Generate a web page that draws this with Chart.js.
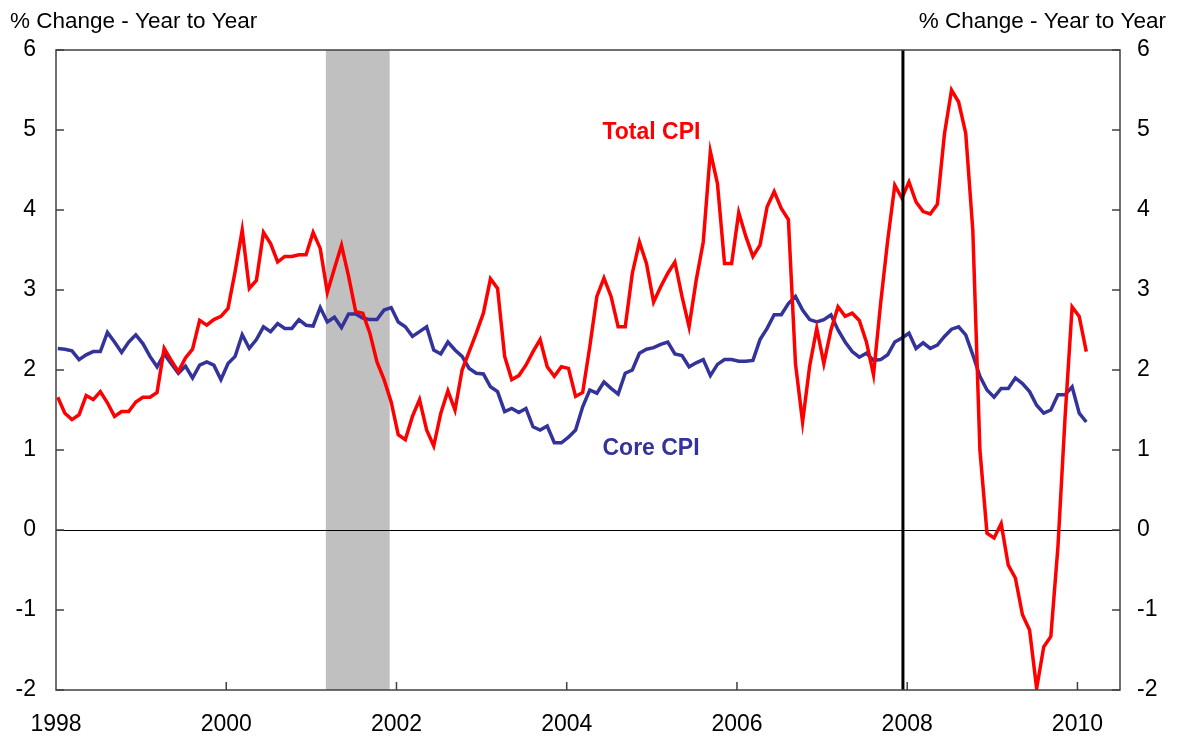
<!DOCTYPE html>
<html>
<head>
<meta charset="utf-8">
<script src="https://cdn.jsdelivr.net/npm/chart.js@4.4.1/dist/chart.umd.min.js"></script>
<style>
  html, body { margin: 0; padding: 0; background: #fff; }
  canvas { display: block; }
</style>
</head>
<body>
<canvas id="cpi-chart" width="1179" height="740"></canvas>
<script>
const startYear = 1998;
const yearTicks = [1998, 2000, 2002, 2004, 2006, 2008, 2010];
const valueTicks = [-2, -1, 0, 1, 2, 3, 4, 5, 6];
const recessions = [[2001.17, 2001.92]];
const recessionStart = 2007.95;
const axisTitle = '% Change - Year to Year';

// monthly, Jan 1998 - Feb 2010
const totalCpi = [
  1.66, 1.46, 1.38, 1.44, 1.68, 1.63, 1.73, 1.59, 1.42, 1.48, 1.48, 1.60, // 1998
  1.66, 1.66, 1.72, 2.27, 2.12, 1.98, 2.15, 2.26, 2.62, 2.56, 2.63, 2.67, // 1999
  2.77, 3.23, 3.75, 3.02, 3.12, 3.72, 3.58, 3.35, 3.42, 3.42, 3.44, 3.44, // 2000
  3.72, 3.52, 2.97, 3.27, 3.56, 3.17, 2.73, 2.71, 2.46, 2.10, 1.88, 1.60, // 2001
  1.19, 1.13, 1.42, 1.63, 1.25, 1.05, 1.46, 1.74, 1.50, 2.00, 2.23, 2.46, // 2002
  2.71, 3.14, 3.02, 2.17, 1.88, 1.93, 2.06, 2.23, 2.38, 2.04, 1.92, 2.04, // 2003
  2.02, 1.67, 1.72, 2.29, 2.92, 3.15, 2.92, 2.54, 2.54, 3.21, 3.60, 3.33, // 2004
  2.85, 3.04, 3.21, 3.35, 2.92, 2.54, 3.12, 3.60, 4.73, 4.33, 3.33, 3.33, // 2005
  3.97, 3.67, 3.42, 3.56, 4.04, 4.23, 4.02, 3.88, 2.08, 1.35, 2.05, 2.52, // 2006
  2.08, 2.50, 2.79, 2.67, 2.71, 2.62, 2.35, 1.94, 2.83, 3.62, 4.31, 4.15, // 2007
  4.35, 4.10, 3.98, 3.95, 4.07, 4.95, 5.50, 5.35, 4.96, 3.75, 1.00, -0.04, // 2008
  -0.10, 0.08, -0.44, -0.60, -1.06, -1.25, -1.98, -1.46, -1.33, -0.21, 1.40, 2.79, // 2009
  2.67, 2.23 // 2010
];

const coreCpi = [
  2.27, 2.26, 2.24, 2.13, 2.19, 2.23, 2.23, 2.47, 2.35, 2.22, 2.35, 2.44, // 1998
  2.33, 2.17, 2.04, 2.20, 2.08, 1.96, 2.05, 1.90, 2.06, 2.10, 2.06, 1.88, // 1999
  2.08, 2.17, 2.44, 2.27, 2.38, 2.54, 2.48, 2.58, 2.52, 2.52, 2.63, 2.56, // 2000
  2.55, 2.78, 2.60, 2.66, 2.53, 2.70, 2.70, 2.65, 2.63, 2.63, 2.75, 2.78, // 2001
  2.60, 2.54, 2.42, 2.48, 2.54, 2.25, 2.20, 2.35, 2.25, 2.17, 2.02, 1.96, // 2002
  1.95, 1.79, 1.73, 1.48, 1.52, 1.47, 1.52, 1.29, 1.25, 1.30, 1.09, 1.09, // 2003
  1.16, 1.25, 1.54, 1.75, 1.71, 1.85, 1.77, 1.70, 1.96, 2.00, 2.21, 2.26, // 2004
  2.28, 2.32, 2.35, 2.20, 2.18, 2.04, 2.09, 2.13, 1.93, 2.07, 2.13, 2.13, // 2005
  2.11, 2.11, 2.12, 2.38, 2.52, 2.69, 2.69, 2.83, 2.92, 2.75, 2.63, 2.60, // 2006
  2.63, 2.69, 2.50, 2.35, 2.23, 2.16, 2.21, 2.12, 2.13, 2.19, 2.35, 2.40, // 2007
  2.46, 2.27, 2.34, 2.27, 2.31, 2.42, 2.51, 2.54, 2.44, 2.19, 1.92, 1.75, // 2008
  1.66, 1.77, 1.77, 1.90, 1.83, 1.73, 1.56, 1.46, 1.50, 1.69, 1.69, 1.79, // 2009
  1.46, 1.35 // 2010
];

const FONT = 'Arial, "Liberation Sans", sans-serif';
const frameColor = '#404040';

function toPoints(values) {
  return values.map((v, i) => ({ x: startYear + (i + 0.25) / 12, y: v }));
}

const decorations = {
  id: 'decorations',
  beforeDraw(chart) {
    const { ctx, chartArea, scales } = chart;
    ctx.save();
    ctx.fillStyle = '#c0c0c0';
    recessions.forEach(([from, to]) => {
      const x1 = scales.x.getPixelForValue(from);
      const x2 = scales.x.getPixelForValue(to);
      ctx.fillRect(x1, chartArea.top, x2 - x1, chartArea.bottom - chartArea.top);
    });
    ctx.restore();
  },
  afterDatasetsDraw(chart) {
    const { ctx, chartArea, scales } = chart;
    const x = scales.x.getPixelForValue(recessionStart);
    ctx.save();
    ctx.strokeStyle = '#000';
    ctx.lineWidth = 3;
    ctx.beginPath();
    ctx.moveTo(x, chartArea.top);
    ctx.lineTo(x, chartArea.bottom);
    ctx.stroke();

    ctx.font = 'bold 23px ' + FONT;
    ctx.textBaseline = 'middle';
    ctx.textAlign = 'left';
    ctx.fillStyle = '#ff0000';
    ctx.fillText('Total CPI', scales.x.getPixelForValue(2004.42), scales.y.getPixelForValue(4.97));
    ctx.fillStyle = '#333399';
    ctx.fillText('Core CPI', scales.x.getPixelForValue(2004.42), scales.y.getPixelForValue(1.02));
    ctx.restore();
  },
  afterDraw(chart) {
    const { ctx, chartArea, scales } = chart;
    const { left, right, top, bottom } = chartArea;
    ctx.save();
    ctx.strokeStyle = frameColor;
    ctx.lineWidth = 1.5;
    ctx.strokeRect(left, top, right - left, bottom - top);

    // inward tick marks
    ctx.beginPath();
    valueTicks.forEach((v) => {
      const y = scales.y.getPixelForValue(v);
      ctx.moveTo(left, y);
      ctx.lineTo(left + 8, y);
      ctx.moveTo(right, y);
      ctx.lineTo(right - 8, y);
    });
    yearTicks.slice(1).forEach((yr) => {
      const x = scales.x.getPixelForValue(yr);
      ctx.moveTo(x, bottom);
      ctx.lineTo(x, bottom - 8);
    });
    ctx.stroke();

    ctx.fillStyle = '#000';
    ctx.font = '22.5px ' + FONT;
    ctx.textBaseline = 'middle';
    ctx.textAlign = 'left';
    ctx.fillText(axisTitle, 10, 22);
    ctx.textAlign = 'right';
    ctx.fillText(axisTitle, 1166, 22);
    ctx.restore();
  },
};

const tickFont = { family: FONT, size: 23 };

new Chart(document.getElementById('cpi-chart'), {
  type: 'line',
  data: {
    datasets: [
      {
        label: 'Total CPI',
        data: toPoints(totalCpi),
        borderColor: '#ff0000',
        borderWidth: 3.5,
        pointRadius: 0,
        tension: 0,
      },
      {
        label: 'Core CPI',
        data: toPoints(coreCpi),
        borderColor: '#333399',
        borderWidth: 3.5,
        pointRadius: 0,
        tension: 0,
      },
    ],
  },
  options: {
    responsive: false,
    animation: false,
    layout: { padding: { top: 50, left: 0, right: 0, bottom: 0 } },
    plugins: {
      legend: { display: false },
      tooltip: { enabled: false },
    },
    scales: {
      x: {
        type: 'linear',
        min: 1998,
        max: 2010.5,
        afterBuildTicks: (scale) => {
          scale.ticks = yearTicks.map((v) => ({ value: v }));
        },
        afterFit: (scale) => {
          scale.height = 50;
        },
        grid: { display: false },
        border: { display: false },
        ticks: {
          font: tickFont,
          color: '#000',
          padding: 13,
          maxRotation: 0,
          callback: (v) => String(v),
        },
      },
      y: {
        position: 'left',
        min: -2,
        max: 6,
        afterBuildTicks: (scale) => {
          scale.ticks = valueTicks.map((v) => ({ value: v }));
        },
        afterFit: (scale) => {
          scale.width = 56;
        },
        grid: {
          drawTicks: false,
          lineWidth: 1,
          color: (c) => (c.tick && c.tick.value === 0 ? '#000' : 'rgba(0,0,0,0)'),
        },
        border: { display: false },
        ticks: { font: tickFont, color: '#000', padding: 20, callback: (v) => String(v) },
      },
      y2: {
        position: 'right',
        min: -2,
        max: 6,
        afterBuildTicks: (scale) => {
          scale.ticks = valueTicks.map((v) => ({ value: v }));
        },
        afterFit: (scale) => {
          scale.width = 59;
        },
        grid: { display: false, drawTicks: false },
        border: { display: false },
        ticks: { font: tickFont, color: '#000', padding: 17, callback: (v) => String(v) },
      },
    },
  },
  plugins: [decorations],
});
</script>
</body>
</html>
